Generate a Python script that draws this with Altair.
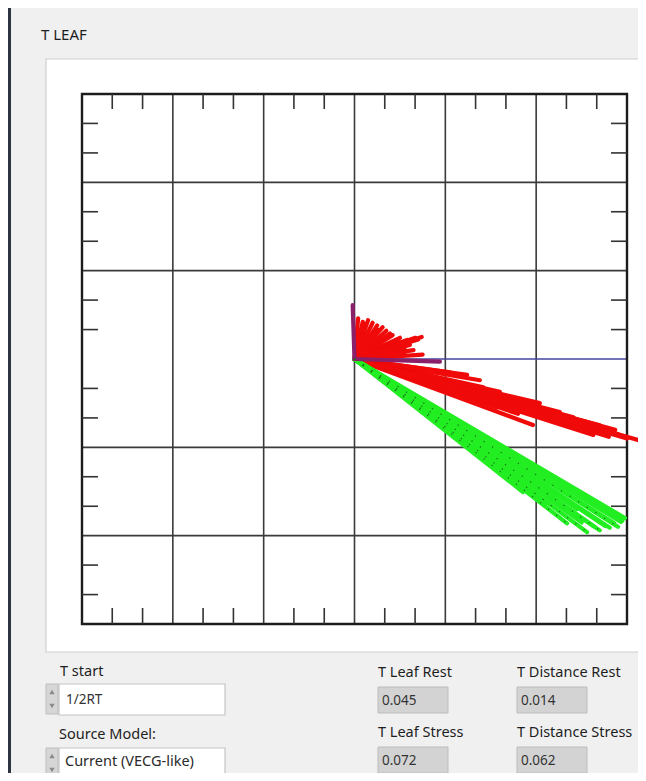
import altair as alt
import pandas as pd

FONT = "Noto Sans"

# ---- data -------------------------------------------------------------
title_text = "T LEAF"
grid_x = [-2, -1, 0, 1, 2]
grid_y = [-2, -1, 1, 2]          # centre row is only the blue half-axis
minor_ticks = [-2.667, -2.333, -1.667, -1.333, -0.667, -0.333,
               0.333, 0.667, 1.333, 1.667, 2.333, 2.667]

# red loop rays (end points, origin at 0,0)
red_x = [0.04, 0.09, 0.12, 0.15, 0.20, 0.25, 0.26, 0.31, 0.35, 0.39, 0.42, 0.48,
         0.50, 0.58, 0.62, 0.67, 0.70, 0.74, 0.61, 0.556, 0.65, 0.55, 0.45, 0.40,
         0.75, 0.30, 0.50, 0.70, 0.90, 1.05, 1.10, 1.24, 1.38, 1.40, 1.42, 1.60,
         1.70, 1.80, 1.82, 2.04, 2.10, 1.965, 1.57, 2.20, 2.26, 2.35, 2.41, 2.55,
         2.63, 2.70, 2.80, 2.87, 2.90, 3.00, 3.12, 2.98, 2.48, 1.27]
red_y = [0.46, 0.42, 0.40, 0.44, 0.41, 0.38, 0.33, 0.36, 0.32, 0.29, 0.27, 0.22,
         0.24, 0.215, 0.20, 0.24, 0.22, 0.25, 0.16, 0.08, 0.10, 0.12, 0.11, 0.05,
         0.05, 0.20, -0.15, -0.22, -0.30, -0.15, -0.38, -0.18, -0.24, -0.45, -0.32, -0.37,
         -0.55, -0.62, -0.46, -0.50, -0.62, -0.747, -0.55, -0.70, -0.60, -0.72, -0.66, -0.80,
         -0.86, -0.75, -0.88, -0.80, -0.85, -0.90, -0.917, -0.88, -0.78, -0.35]
# purple start segments
purple_x = [-0.02, 0.94]
purple_y = [0.61, -0.03]
# green loop rays
green_x = [2.978, 2.95, 2.934, 2.90, 2.86, 2.81, 2.76, 2.70, 2.64, 2.56, 2.50,
           2.45, 2.34, 2.20, 2.10, 1.855]
green_y = [-1.80, -1.83, -1.845, -1.90, -1.86, -1.91, -1.89, -1.94, -1.90, -1.96, -1.85,
           -1.70, -1.86, -1.55, -1.65, -1.506]
green_dotted = [3, 7, 9, 12]

ctrl_labels = ["T start", "Source Model:"]
ctrl_values = ["1/2RT", "Current (VECG-like)"]
ind_labels = ["T Leaf Rest", "T Distance Rest", "T Leaf Stress", "T Distance Stress"]
ind_values = ["0.045", "0.014", "0.072", "0.062"]

# ---- geometry ----------------------------------------------------------
W, H = 545, 530
OX, OY = 82, 94          # page position of the plot frame
xs = alt.Scale(domain=[-3, 3], nice=False, zero=False)
ys = alt.Scale(domain=[-3, 3], nice=False, zero=False)
one = alt.Data(values=[{"a": 1}])


def rect(x0, y0, x1, y1, fill, stroke=None, sw=1.0):
    kw = dict(fill=fill)
    if stroke:
        kw.update(stroke=stroke, strokeWidth=sw)
    return alt.Chart(one).mark_rect(**kw).encode(
        x=alt.value(x0 - OX), x2=alt.value(x1 - OX),
        y=alt.value(y0 - OY), y2=alt.value(y1 - OY))


def text(s, X, Y, size=14.5, color="#1e1e1e"):
    return alt.Chart(one).mark_text(
        text=s, align="left", baseline="middle", fontSize=size, font=FONT, color=color
    ).encode(x=alt.value(X - OX), y=alt.value(Y - OY))


def spinner(X, Y):
    bg = rect(X - 6, Y - 15, X + 6, Y + 15, "#d6d6d6", "#bdbdbd", 1)
    up = alt.Chart(one).mark_point(shape="triangle-up", filled=True, size=28, color="#8a8a8a",
                                    opacity=1).encode(x=alt.value(X - OX), y=alt.value(Y - 7 - OY))
    dn = alt.Chart(one).mark_point(shape="triangle-down", filled=True, size=28, color="#8a8a8a",
                                    opacity=1).encode(x=alt.value(X - OX), y=alt.value(Y + 7 - OY))
    return [bg, up, dn]


layers = []
# left dark border and white plot panel
layers.append(rect(8, 8, 11, 790, "#2e3540"))
layers.append(rect(46, 59, 660, 652, "#ffffff", "#cfcfcf", 1.2))
layers.append(text(title_text, 41, 35, 15))

# grid
vg = pd.DataFrame({"x": grid_x})
hg = pd.DataFrame({"y": grid_y})
layers.append(alt.Chart(vg).mark_rule(color="#3a3a3a", strokeWidth=1.6).encode(
    x=alt.X("x:Q", scale=xs, axis=None)))
layers.append(alt.Chart(hg).mark_rule(color="#3a3a3a", strokeWidth=1.6).encode(
    y=alt.Y("y:Q", scale=ys, axis=None)))
# blue half axis
blue = pd.DataFrame({"x0": [0], "x1": [3], "y": [0]})
layers.append(alt.Chart(blue).mark_rule(color="#45459c", strokeWidth=1.6).encode(
    x=alt.X("x0:Q", scale=xs, axis=None), x2="x1:Q", y=alt.Y("y:Q", scale=ys, axis=None)))
# frame
fr = pd.DataFrame({"x0": [-3], "x1": [3], "y0": [-3], "y1": [3]})
layers.append(alt.Chart(fr).mark_rect(fill="transparent", stroke="#1c1c1c", strokeWidth=2.4).encode(
    x=alt.X("x0:Q", scale=xs, axis=None), x2="x1:Q",
    y=alt.Y("y0:Q", scale=ys, axis=None), y2="y1:Q"))
# minor ticks on all four edges
mt = pd.DataFrame({"t": minor_ticks})
tick = dict(color="#333333", strokeWidth=1.6)
layers.append(alt.Chart(mt).mark_rule(**tick).encode(
    x=alt.X("t:Q", scale=xs, axis=None), y=alt.value(0), y2=alt.value(15)))
layers.append(alt.Chart(mt).mark_rule(**tick).encode(
    x=alt.X("t:Q", scale=xs, axis=None), y=alt.value(H - 16), y2=alt.value(H)))
layers.append(alt.Chart(mt).mark_rule(**tick).encode(
    y=alt.Y("t:Q", scale=ys, axis=None), x=alt.value(0), x2=alt.value(16)))
layers.append(alt.Chart(mt).mark_rule(**tick).encode(
    y=alt.Y("t:Q", scale=ys, axis=None), x=alt.value(W - 16), x2=alt.value(W)))

# loop rays
rays = pd.concat([
    pd.DataFrame({"ex": red_x, "ey": red_y, "s": "red"}),
    pd.DataFrame({"ex": green_x, "ey": green_y, "s": "green"}),
    pd.DataFrame({"ex": purple_x, "ey": purple_y, "s": "purple"}),
], ignore_index=True)
rays["ox"] = 0.0
rays["oy"] = 0.0
layers.append(alt.Chart(rays).mark_rule(strokeWidth=4.2, strokeCap="round").encode(
    x=alt.X("ox:Q", scale=xs, axis=None), x2="ex:Q",
    y=alt.Y("oy:Q", scale=ys, axis=None), y2="ey:Q",
    color=alt.Color("s:N", legend=None,
                    scale=alt.Scale(domain=["red", "green", "purple"],
                                    range=["#f00a0a", "#22ee22", "#8a1f6a"]))))
gd = pd.DataFrame({"ex": [green_x[i] for i in green_dotted],
                   "ey": [green_y[i] for i in green_dotted]})
gd["ox"] = 0.0
gd["oy"] = 0.0
layers.append(alt.Chart(gd).mark_rule(strokeWidth=1.3, color="#1a6e1a", strokeDash=[1.2, 9]).encode(
    x=alt.X("ox:Q", scale=xs, axis=None), x2="ex:Q",
    y=alt.Y("oy:Q", scale=ys, axis=None), y2="ey:Q"))

# controls below the graph
layers.append(text(ctrl_labels[0], 60, 672))
layers += spinner(52, 699)
layers.append(rect(59, 684, 225, 715, "#ffffff", "#c4c4c4", 1.2))
layers.append(text(ctrl_values[0], 66, 700, 13.5, "#333333"))
layers.append(text(ctrl_labels[1], 59, 735))
layers += spinner(52, 763)
layers.append(rect(59, 748, 225, 781, "#ffffff", "#c4c4c4", 1.2))
layers.append(text(ctrl_values[1], 65, 762, 14.5, "#2a2a2a"))

ind_pos = [(378, 673), (517, 673), (378, 733), (517, 733)]
for lab, val, (X, Y) in zip(ind_labels, ind_values, ind_pos):
    layers.append(text(lab, X, Y))
    layers.append(rect(X, Y + 14, X + 70, Y + 40, "#d3d3d3", "#bcbcbc", 1))
    layers.append(text(val, X + 4, Y + 28, 13.5, "#333333"))

chart = alt.layer(*layers).properties(
    width=W, height=H,
    autosize=alt.AutoSizeParams(type="none"),
    padding={"left": OX - 8, "top": OY - 8, "right": 11, "bottom": 149},
    background="#f0f0f0",
).configure_view(stroke="transparent")

chart.save("out.html", embed_options={"renderer": "svg", "actions": False})
